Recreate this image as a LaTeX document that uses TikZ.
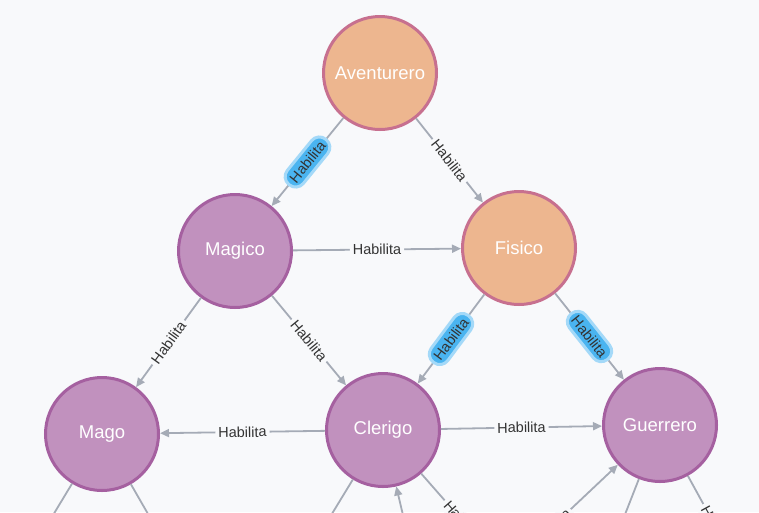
\documentclass[tikz,border=0pt]{standalone}
\usepackage{fontspec}
\setmainfont{Liberation Sans}
\usetikzlibrary{arrows.meta}

\definecolor{bgcol}{RGB}{248,249,251}
\definecolor{purplefill}{RGB}{193,145,190}
\definecolor{purpleline}{RGB}{165,96,160}
\definecolor{orangefill}{RGB}{237,182,143}
\definecolor{orangeline}{RGB}{199,112,143}
\definecolor{relgray}{RGB}{165,171,182}
\definecolor{hiblue}{RGB}{74,180,240}
\definecolor{txtgray}{RGB}{51,51,51}

\tikzset{
  klasse/.style={circle, minimum size=113pt, line width=3pt, draw=purpleline, fill=purplefill, text=white, font=\fontsize{18.5}{21}\selectfont},
  basis/.style={klasse, draw=orangeline, fill=orangefill},
  rel/.style={-{Triangle[length=9pt,width=8pt]}, draw=relgray, line width=1.8pt},
  lbl/.style={sloped, midway, fill=bgcol, text=txtgray, inner sep=3pt, font=\fontsize{14.5}{16}\selectfont},
  lblhi/.style={lbl, fill=hiblue, draw=hiblue!50, line width=3pt, rounded corners=10pt, inner sep=5pt}
}

\begin{document}
\begin{tikzpicture}[x=1pt,y=-1pt]

\useasboundingbox (0,0) rectangle (759,512);
\fill[bgcol] (0,0) rectangle (759,512);
\clip (0,0) rectangle (759,512);

\node[basis] (v1) at (380,73) {Aventurero};
\node[klasse] (v2) at (235,251) {Magico};
\node[basis] (v3) at (519,248) {Fisico};
\node[klasse] (v4) at (102,434) {Mago};
\node[klasse] (v5) at (383,430) {Clerigo};
\node[klasse] (v6) at (660,425) {Guerrero};

\coordinate (v7) at (38,540);
\coordinate (v8) at (163,540);
\coordinate (v9) at (316,540);
\coordinate (v10) at (410,545);
\coordinate (v11) at (504,568);
\coordinate (v12) at (484,591);
\coordinate (v13) at (615,540);
\coordinate (v14) at (745,580);

\draw  (v1) edge[rel] node[lblhi] {Habilita} (v2);
\draw  (v1) edge[rel] node[lbl] {Habilita} (v3);
\draw  (v2) edge[rel] node[lbl] {Habilita} (v3);
\draw  (v2) edge[rel] node[lbl] {Habilita} (v4);
\draw  (v2) edge[rel] node[lbl] {Habilita} (v5);
\draw  (v3) edge[rel] node[lblhi] {Habilita} (v5);
\draw  (v3) edge[rel] node[lblhi] {Habilita} (v6);
\draw  (v5) edge[rel] node[lbl] {Habilita} (v4);
\draw  (v5) edge[rel] node[lbl] {Habilita} (v6);

\draw  (v4) edge[rel] (v7);
\draw  (v4) edge[rel] (v8);
\draw  (v5) edge[rel] (v9);
\draw  (v10) edge[rel] (v5);
\draw  (v5) edge[rel] node[lbl] {Habilita} (v11);
\draw  (v12) edge[rel] node[lbl] {Habilita} (v6);
\draw  (v6) edge[rel] (v13);
\draw  (v6) edge[rel] node[lbl] {Habilita} (v14);

\end{tikzpicture}
\end{document}
